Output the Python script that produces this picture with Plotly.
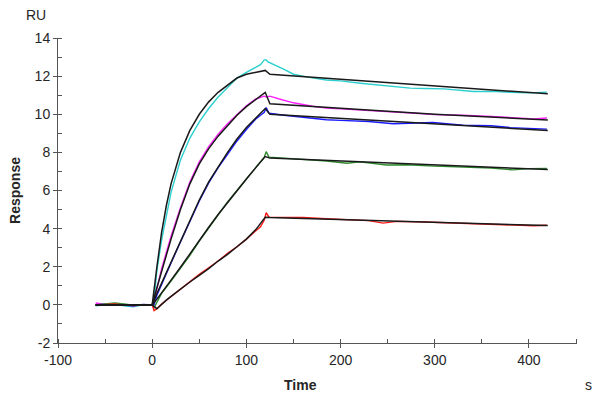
import plotly.graph_objects as go

# ---- measured sensorgram data (time in s, response in RU) ----
t_base = [-60, -50, -40, -30, -20, -10, 0]
base_cyan = [-0.05, 0.0, 0.05, -0.05, -0.1, 0.0, 0.0]
base_magenta = [0.1, 0.02, 0.05, 0.0, -0.05, 0.0, 0.02]
base_blue = [0.0, 0.03, 0.02, 0.0, -0.05, 0.02, 0.0]
base_green = [0.0, 0.05, 0.1, 0.05, -0.02, 0.0, 0.0]
base_red = [-0.02, 0.02, 0.05, 0.0, -0.03, 0.0, 0.0]

t_assoc = [2, 5, 10, 20, 30, 40, 50, 60, 70, 80, 90, 100, 110, 115, 119]
assoc_cyan = [0.3, 1.8, 3.4, 5.9, 7.6, 8.75, 9.6, 10.3, 10.9, 11.4, 11.9, 12.2, 12.45, 12.6, 12.85]
assoc_magenta = [0.2, 0.9, 1.9, 3.6, 5.1, 6.45, 7.5, 8.3, 8.95, 9.5, 10.0, 10.45, 10.8, 10.9, 10.95]
assoc_blue = [0.0, 0.5, 1.1, 2.2, 3.3, 4.35, 5.45, 6.4, 7.2, 7.9, 8.6, 9.2, 9.75, 9.95, 10.1]
assoc_green = [-0.15, 0.15, 0.6, 1.25, 1.9, 2.6, 3.35, 4.05, 4.7, 5.4, 6.0, 6.6, 7.2, 7.5, 7.75]
assoc_red = [-0.3, -0.2, 0.05, 0.45, 0.85, 1.2, 1.6, 1.95, 2.3, 2.7, 3.05, 3.45, 3.85, 4.1, 4.45]

t_diss_cyan = [121, 123, 130, 140, 150, 165, 185, 200, 221, 240, 256, 274, 290, 310, 341, 360, 380, 400, 419]
diss_cyan = [12.85, 12.75, 12.6, 12.35, 12.1, 11.95, 11.8, 11.75, 11.63, 11.55, 11.45, 11.37, 11.35, 11.33, 11.19, 11.2, 11.15, 11.12, 11.16]
t_diss_magenta = [121, 125, 135, 150, 170, 185, 200, 230, 256, 280, 300, 330, 360, 390, 405, 419]
diss_magenta = [10.9, 10.95, 10.8, 10.6, 10.42, 10.32, 10.28, 10.2, 10.14, 10.05, 9.98, 9.95, 9.88, 9.82, 9.76, 9.8]
t_diss_blue = [121, 124, 140, 160, 185, 200, 230, 256, 280, 298, 330, 360, 380, 400, 419]
diss_blue = [10.35, 10.05, 9.95, 9.85, 9.71, 9.68, 9.62, 9.5, 9.55, 9.57, 9.42, 9.4, 9.3, 9.27, 9.22]
t_diss_green = [121, 124, 140, 160, 185, 207, 220, 249, 270, 300, 330, 360, 383, 400, 419]
diss_green = [8.04, 7.75, 7.7, 7.65, 7.55, 7.43, 7.5, 7.34, 7.35, 7.28, 7.24, 7.18, 7.08, 7.15, 7.16]
t_diss_red = [121, 124, 140, 160, 185, 210, 230, 245, 260, 290, 320, 345, 370, 390, 405, 419]
diss_red = [4.84, 4.6, 4.6, 4.58, 4.52, 4.47, 4.42, 4.29, 4.38, 4.35, 4.3, 4.25, 4.22, 4.2, 4.15, 4.18]

# ---- fitted curves (black) ----
t_fit_base = [-60, 0]
fit_base = [0.0, 0.0]
t_fit_assoc = [0, 5, 10, 15, 20, 30, 40, 50, 60, 70, 80, 90, 100, 110, 120]
fit_cyan_a = [0.0, 2.0, 3.8, 5.2, 6.35, 8.0, 9.15, 10.0, 10.65, 11.15, 11.55, 11.9, 12.1, 12.22, 12.3]
fit_magenta_a = [0.0, 0.9, 1.75, 2.6, 3.45, 5.0, 6.35, 7.4, 8.2, 8.85, 9.4, 9.95, 10.4, 10.8, 11.15]
fit_blue_a = [0.0, 0.6, 1.15, 1.7, 2.25, 3.35, 4.4, 5.5, 6.45, 7.25, 8.0, 8.7, 9.3, 9.8, 10.3]
fit_green_a = [0.0, 0.3, 0.65, 0.98, 1.3, 1.97, 2.68, 3.38, 4.07, 4.74, 5.38, 5.99, 6.6, 7.2, 7.78]
fit_red_a = [0.0, -0.2, 0.05, 0.25, 0.45, 0.85, 1.2, 1.55, 1.9, 2.3, 2.65, 3.05, 3.45, 3.95, 4.6]
t_fit_diss = [125, 200, 300, 420]
fit_cyan_d = [12.1, 11.84, 11.49, 11.07]
fit_magenta_d = [10.55, 10.3, 10.0, 9.7]
fit_blue_d = [10.0, 9.78, 9.5, 9.15]
fit_green_d = [7.7, 7.55, 7.35, 7.1]
fit_red_d = [4.58, 4.48, 4.34, 4.16]

x_ticks = [-100, 0, 100, 200, 300, 400]
x_ticklabels = ["-100", "0", "100", "200", "300", "400"]
y_ticks = [-2, 0, 2, 4, 6, 8, 10, 12, 14]
y_ticklabels = ["-2", "0", "2", "4", "6", "8", "10", "12", "14"]

series = [
    ("#2ccfcf", base_cyan, assoc_cyan, t_diss_cyan, diss_cyan, fit_cyan_a, fit_cyan_d),
    ("#ff22ff", base_magenta, assoc_magenta, t_diss_magenta, diss_magenta, fit_magenta_a, fit_magenta_d),
    ("#1a1aff", base_blue, assoc_blue, t_diss_blue, diss_blue, fit_blue_a, fit_blue_d),
    ("#2e8b2e", base_green, assoc_green, t_diss_green, diss_green, fit_green_a, fit_green_d),
    ("#ff1a1a", base_red, assoc_red, t_diss_red, diss_red, fit_red_a, fit_red_d),
]

fig = go.Figure()
for color, b, a, td, d, fa, fd in series:
    fig.add_trace(go.Scatter(x=t_base + t_assoc + td, y=b + a + d, mode="lines",
                             line=dict(color=color, width=1.4), hoverinfo="skip"))
for color, b, a, td, d, fa, fd in series:
    fig.add_trace(go.Scatter(x=t_fit_base + t_fit_assoc + t_fit_diss, y=fit_base + fa + fd,
                             mode="lines", line=dict(color="#1a1a1a", width=1.5), hoverinfo="skip"))
# invisible trace to anchor the overlay axes (inside half of crossing ticks)
fig.add_trace(go.Scatter(x=[None], y=[None], xaxis="x2", yaxis="y2", showlegend=False,
                         hoverinfo="skip"))

FONT = "Liberation Sans, Arial"
TXT = "#262626"
AX = "#555555"
axis_common = dict(showgrid=False, zeroline=False, showline=True, linecolor=AX,
                   linewidth=1, ticks="outside", tickcolor=AX, ticklen=4, automargin=False,
                   tickfont=dict(family=FONT, size=14, color=TXT))

fig.update_layout(
    width=600, height=400,
    margin=dict(l=58, r=23, t=38, b=57),
    paper_bgcolor="white", plot_bgcolor="white",
    showlegend=False,
    xaxis=dict(range=[-100, 451], tickvals=x_ticks, ticktext=x_ticklabels,
               minor=dict(dtick=50, tick0=0, ticks="inside", ticklen=4, tickcolor=AX),
               **axis_common),
    yaxis=dict(range=[-2, 14], tickvals=y_ticks, ticktext=y_ticklabels,
               minor=dict(dtick=1, tick0=0, ticks="inside", ticklen=4, tickcolor=AX),
               title=dict(text="<b>Response</b>", standoff=10,
                          font=dict(family=FONT, size=14, color=TXT)),
               **axis_common),
    xaxis2=dict(range=[-100, 451], overlaying="x", anchor="y2", tickvals=x_ticks,
                showticklabels=False, ticks="inside", ticklen=4, tickcolor=AX, automargin=False,
                showgrid=False, zeroline=False, showline=False),
    yaxis2=dict(range=[-2, 14], overlaying="y", anchor="x2", tickvals=y_ticks,
                showticklabels=False, ticks="inside", ticklen=4, tickcolor=AX, automargin=False,
                showgrid=False, zeroline=False, showline=False),
    annotations=[
        dict(text="RU", xref="paper", yref="paper", x=-0.042, y=1.0, yshift=23,
             showarrow=False, xanchor="center", yanchor="middle",
             font=dict(family=FONT, size=14, color=TXT)),
        dict(text="<b>Time</b>", xref="paper", yref="paper", x=(300 - 58) / 519, y=0, yshift=-42,
             showarrow=False, xanchor="center", yanchor="middle",
             font=dict(family=FONT, size=14, color=TXT)),
        dict(text="s", xref="paper", yref="paper", x=(588 - 58) / 519, y=0, yshift=-42,
             showarrow=False, xanchor="center", yanchor="middle",
             font=dict(family=FONT, size=14, color=TXT)),
    ],
)

fig.write_html("out.html")
